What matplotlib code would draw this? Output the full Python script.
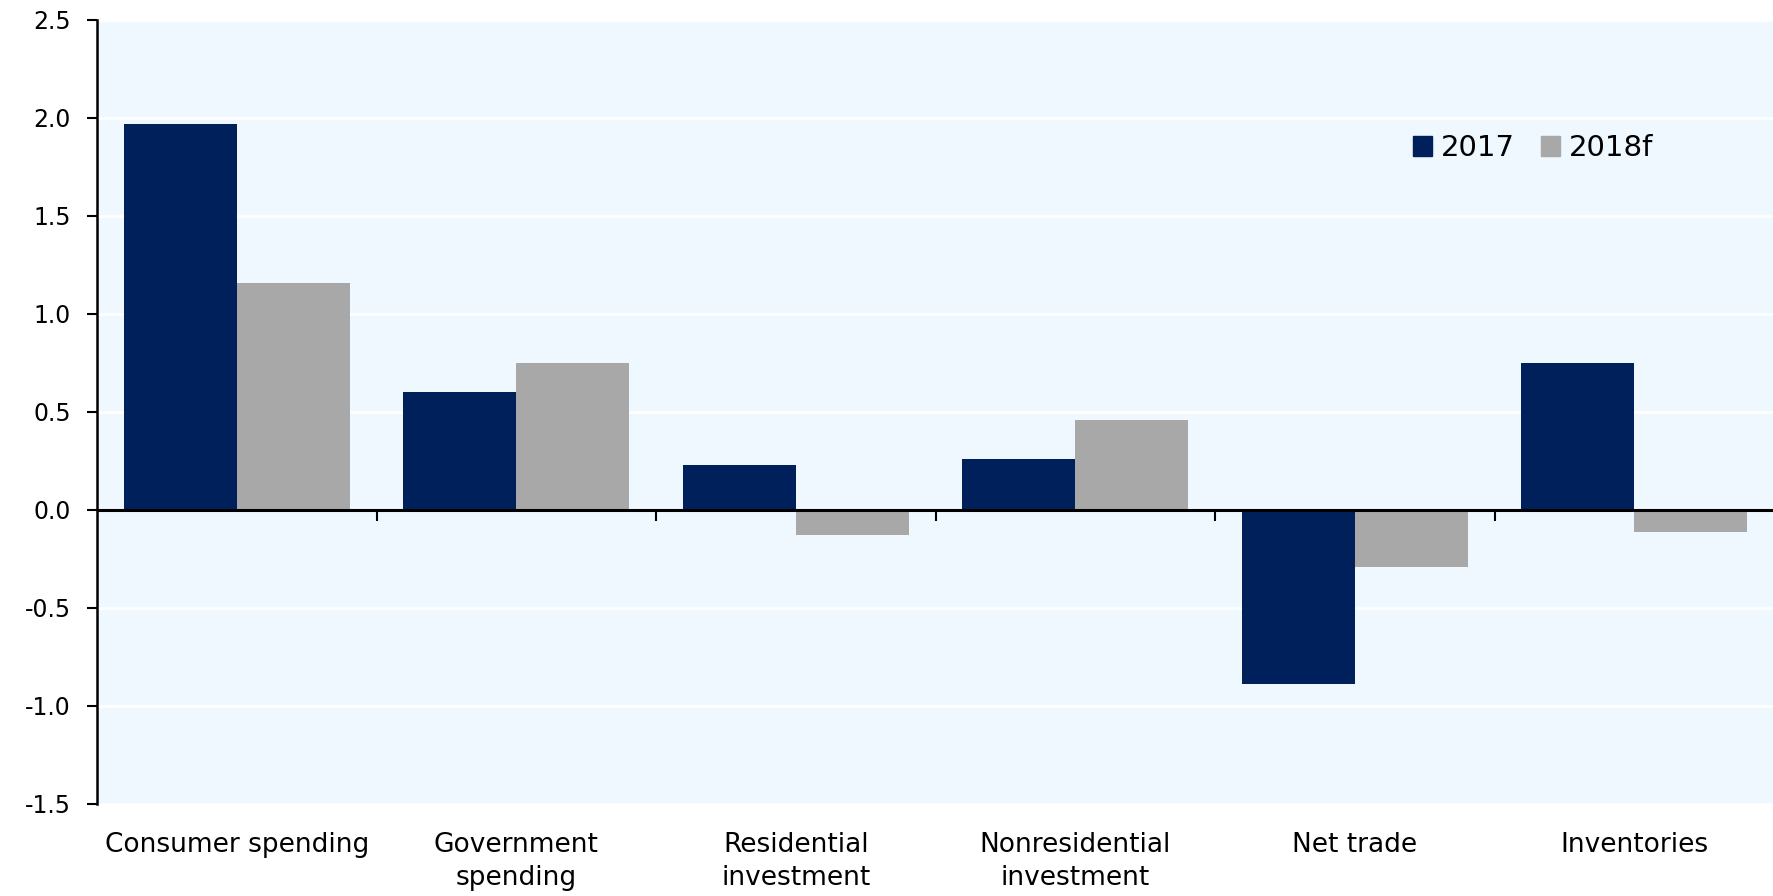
import numpy as np
import matplotlib.pyplot as plt
from matplotlib.patches import Patch

categories = ["Consumer spending", "Government\nspending", "Residential\ninvestment",
              "Nonresidential\ninvestment", "Net trade", "Inventories"]
vals_2017 = [1.97, 0.60, 0.23, 0.26, -0.89, 0.75]
vals_2018 = [1.16, 0.75, -0.13, 0.46, -0.29, -0.11]
series_names = ["2017", "2018f"]
yticks = [-1.5, -1.0, -0.5, 0.0, 0.5, 1.0, 1.5, 2.0, 2.5]

navy = "#00205B"
grey = "#A8A8A8"
bg = "#EFF7FF"

plt.rcParams['font.family'] = ['DejaVu Sans']

fig = plt.figure(figsize=(17.74, 8.96), dpi=100)
ax = fig.add_axes([0.0547, 0.1027, 0.9453, 0.875])
ax.set_facecolor(bg)

x = np.arange(len(categories))
w = 0.405
ax.bar(x - w / 2, vals_2017, width=w, color=navy, zorder=3)
ax.bar(x + w / 2, vals_2018, width=w, color=grey, zorder=3)

ax.set_xlim(-0.5, len(categories) - 0.5)
ax.set_ylim(-1.5, 2.5)
ax.set_yticks(yticks)
ax.set_yticklabels([f"{t:.1f}" for t in yticks])
ax.grid(axis='y', color='white', linewidth=1.8, zorder=1)
ax.set_axisbelow(True)

for s in ['top', 'right', 'bottom']:
    ax.spines[s].set_visible(False)
ax.spines['left'].set_linewidth(1.8)
ax.tick_params(axis='y', direction='out', length=7, width=1.5, pad=12, labelsize=17)
ax.set_xticks(x)
ax.set_xticklabels(categories, linespacing=1.35)
ax.tick_params(axis='x', length=0, pad=20, labelsize=19)

# zero line with ticks at category boundaries
ax.axhline(0, color='black', linewidth=2.2, zorder=4)
sec = ax.secondary_xaxis(1.5 / 4.0)
sec.set_xticks(np.arange(len(categories) - 1) + 0.5)
sec.set_xticklabels([])
sec.spines['bottom'].set_visible(False)
sec.tick_params(direction='out', length=8, width=1.5)

handles = [Patch(color=navy), Patch(color=grey)]
ax.legend(handles, series_names, loc='upper left', bbox_to_anchor=(0.769, 0.888),
          ncol=2, frameon=False, fontsize=21, handlelength=0.65, handleheight=0.65,
          handletextpad=0.3, columnspacing=0.9)

fig.savefig("out.png", dpi=100)
